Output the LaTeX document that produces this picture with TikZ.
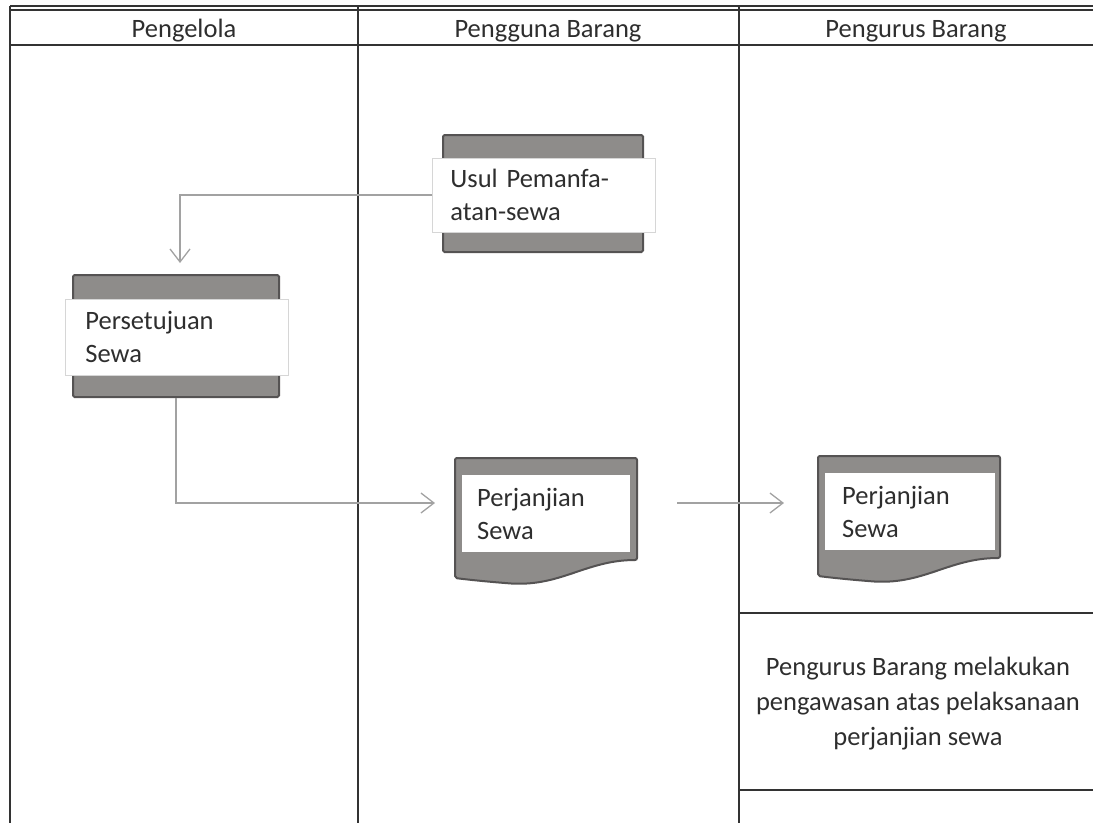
\documentclass[tikz,border=0pt]{standalone}
\usepackage{fontspec}
\setmainfont{Carlito}
\usetikzlibrary{arrows.meta}
\definecolor{lanec}{HTML}{333333}
\definecolor{boxfill}{HTML}{8E8C8A}
\definecolor{boxedge}{HTML}{555353}
\definecolor{connc}{HTML}{A2A2A2}
\definecolor{txtc}{HTML}{2E2E2E}
\definecolor{lbledge}{HTML}{D6D6D6}
\begin{document}
\begin{tikzpicture}[x=1pt,y=-1pt,
  every node/.style={font=\fontsize{26.5}{33}\selectfont, text=txtc},
  lane/.style={draw=lanec, line width=2.2pt},
  procbox/.style={draw=boxedge, fill=boxfill, line width=2pt, rounded corners=1.5pt, inner sep=0pt},
  lblbox/.style={draw=lbledge, fill=white, line width=0.8pt, inner ysep=0pt, align=left, anchor=west},
  docframe/.style={draw=boxedge, fill=boxfill, line width=2pt, rounded corners=2pt},
  docbody/.style={fill=white, inner ysep=0pt, align=left, anchor=north west},
  conn/.style={draw=connc, line width=1.3pt, -{Straight Barb[length=13pt,width=20pt,line width=1.3pt]}},
  pics/docsheet/.style={code={
    \draw[docframe] (0,0) -- (182,0) -- (182,102)
      .. controls (130,102) and (105,130) .. (50,125)
      .. controls (25,123) and (8,121) .. (0,120) -- cycle;
  }}]
\useasboundingbox (0,0) rectangle (1093,823);

% swimlane frame
\draw[lane, line width=1.4pt] (10,6) -- (1093,6);
\draw[lane] (10,10) -- (1093,10);
\draw[lane] (10,45) -- (1093,45);
\draw[lane] (10,6) -- (10,823);
\draw[lane] (358,6) -- (358,823);
\draw[lane] (739,6) -- (739,823);
\draw[lane] (739,613) -- (1093,613);
\draw[lane] (739,790) -- (1093,790);

% lane headers
\node[anchor=base] (h1) at (184,37) {Pengelola};
\node[anchor=base] (h2) at (548,37) {Pengguna Barang};
\node[anchor=base] (h3) at (916,37) {Pengurus Barang};

% process: Usul Pemanfaatan-sewa
\node[procbox, minimum width=200pt, minimum height=117pt] (usul) at (543,193.5) {};
\node[lblbox, minimum width=223pt, minimum height=74pt, text width=187pt, inner xsep=18pt] (ulbl) at (432,195) {Usul Pemanfa-\\atan-sewa};

% process: Persetujuan Sewa
\node[procbox, minimum width=206pt, minimum height=122pt] (pers) at (176,336) {};
\node[lblbox, minimum width=223pt, minimum height=76pt, text width=183pt, inner xsep=20pt] (plbl) at (65,337) {Persetujuan\\Sewa};

% documents: Perjanjian Sewa
\pic at (455,458) {docsheet};
\node[docbody, minimum width=168pt, minimum height=77pt, text width=138pt, inner xsep=15pt] (doc1) at (462,475) {Perjanjian\\Sewa};
\pic at (818,456) {docsheet};
\node[docbody, minimum width=170pt, minimum height=77pt, text width=136pt, inner xsep=17pt] (doc2) at (825,473) {Perjanjian\\Sewa};

% supervision note
\node[align=center, font=\fontsize{26.5}{35}\selectfont] (note) at (918,704)
  {Pengurus Barang melakukan\\pengawasan atas pelaksanaan\\perjanjian sewa};

% connectors
\coordinate (a1) at (180,263);
\coordinate (a2) at (435,503);
\coordinate (b3) at (677,503);
\coordinate (a3) at (784,503);
\draw[conn] (ulbl.west) -| (a1);
\draw[conn] (pers.south) |- (a2);
\draw[conn] (b3) -- (a3);
\end{tikzpicture}
\end{document}
